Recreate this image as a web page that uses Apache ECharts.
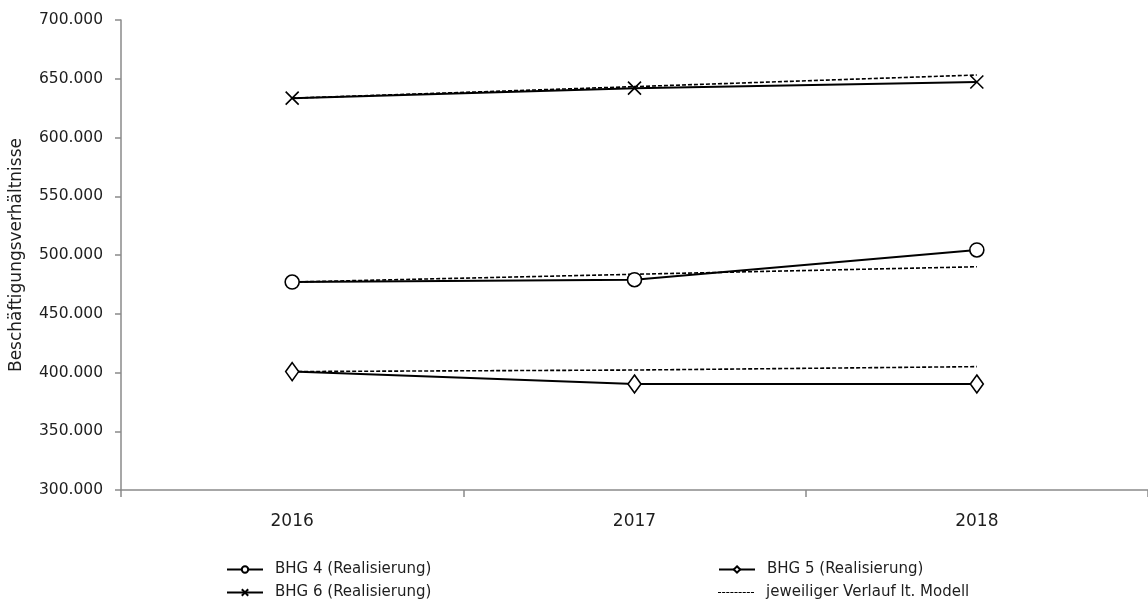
<!DOCTYPE html>
<html>
<head>
<meta charset="utf-8">
<script src="https://cdn.jsdelivr.net/npm/echarts@6/dist/echarts.min.js"></script>
<style>
  html, body { margin: 0; padding: 0; background: #fff; }
  #chart { width: 1148px; height: 604px; }
</style>
</head>
<body>
<div id="chart"></div>
<script>
// Employment figures (in thousands) per year
const years = ['2016', '2017', '2018'];
const yTicks = [300, 350, 400, 450, 500, 550, 600, 650, 700];

const bhg4Real = [477, 479, 504.3];
const bhg5Real = [400.8, 390.2, 390.2];
const bhg6Real = [633.5, 642, 647.2];

const bhg4Model = [477, 483.6, 490];
const bhg5Model = [400.8, 402.1, 405];
const bhg6Model = [633.5, 643.3, 653.2];

const modelName = 'jeweiliger Verlauf lt. Modell';
const FONT = 'DejaVu Sans';
const TEXT = '#1e1e1e';
const AXIS = '#8a8a8a';
const crossPath = 'path://M0,0L10,10M10,0L0,10';

// short dashes for the model entry in the legend
let dashPath = 'path://';
for (let i = 0; i < 9; i++) {
  const x = i * 4;
  dashPath += 'M' + x + ',0H' + (x + 3) + 'V1H' + x + 'Z';
}

function realSeries(name, data, symbol, size) {
  return {
    name: name,
    type: 'line',
    data: data,
    symbol: symbol,
    symbolSize: size,
    showAllSymbol: true,
    lineStyle: { color: '#000', width: 2 },
    itemStyle: { color: symbol === crossPath ? '#000' : '#fff', borderColor: '#000', borderWidth: 1.6 },
    z: 3,
    animation: false
  };
}

function modelSeries(data) {
  return {
    name: modelName,
    type: 'line',
    data: data,
    symbol: 'none',
    lineStyle: { color: '#000', width: 1.6, type: [4, 2] },
    itemStyle: { color: '#000' },
    z: 2,
    animation: false
  };
}

function legendEntry(item, left, top, height) {
  return {
    orient: 'horizontal',
    left: left,
    top: top,
    padding: 0,
    itemWidth: 36,
    itemHeight: height,
    selectedMode: false,
    textStyle: { fontFamily: FONT, fontSize: 15, color: TEXT, padding: [0, 0, 0, 7] },
    data: [item]
  };
}

const chart = echarts.init(document.getElementById('chart'), null, { renderer: 'canvas' });

chart.setOption({
  backgroundColor: '#fff',
  textStyle: { fontFamily: FONT, color: TEXT },
  grid: { left: 120, right: 0, top: 20, bottom: 114 },
  xAxis: {
    type: 'category',
    data: years,
    boundaryGap: true,
    axisLine: { lineStyle: { color: AXIS, width: 1.5 } },
    axisTick: { show: true, length: 7, lineStyle: { color: AXIS, width: 1.5 } },
    axisLabel: { fontFamily: FONT, fontSize: 17, color: TEXT, margin: 23 },
    splitLine: { show: false }
  },
  yAxis: {
    type: 'value',
    min: yTicks[0],
    max: yTicks[yTicks.length - 1],
    interval: 50,
    name: 'Beschäftigungsverhältnisse',
    nameLocation: 'middle',
    nameGap: 96,
    nameTextStyle: { fontFamily: FONT, fontSize: 17, color: TEXT },
    axisLine: { show: true, lineStyle: { color: AXIS, width: 1.5 } },
    axisTick: { show: true, length: 6, lineStyle: { color: AXIS, width: 1.5 } },
    axisLabel: {
      fontFamily: FONT, fontSize: 15.5, color: TEXT, margin: 18,
      formatter: v => v + '.000'
    },
    splitLine: { show: false }
  },
  legend: [
    legendEntry('BHG 4 (Realisierung)', 226, 562, 8),
    legendEntry('BHG 6 (Realisierung)', 226, 585, 8),
    legendEntry('BHG 5 (Realisierung)', 718, 562, 8),
    legendEntry({ name: modelName, icon: dashPath }, 718, 585, 1.5)
  ],
  series: [
    modelSeries(bhg4Model),
    modelSeries(bhg5Model),
    modelSeries(bhg6Model),
    realSeries('BHG 4 (Realisierung)', bhg4Real, 'circle', 14),
    realSeries('BHG 5 (Realisierung)', bhg5Real, 'diamond', [13, 18]),
    realSeries('BHG 6 (Realisierung)', bhg6Real, crossPath, 13)
  ]
});
</script>
</body>
</html>
